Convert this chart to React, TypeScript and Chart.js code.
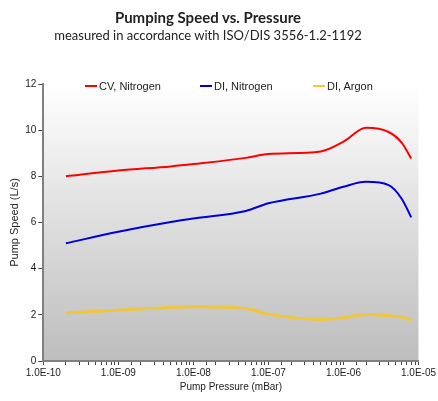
import { useEffect, useRef } from 'react';
import { Chart, registerables } from 'chart.js';
import type { ChartConfiguration, Plugin } from 'chart.js';

Chart.register(...registerables);

// pressure in mBar (log axis) and pumping speed in L/s
const pressure = [2e-10, 1e-9, 5e-9, 1e-8, 5e-8, 1e-7, 5e-7, 1e-6, 2e-6, 4e-6, 6e-6, 8e-6];
const cvNitrogen = [8.0, 8.25, 8.43, 8.53, 8.8, 8.97, 9.08, 9.5, 10.1, 9.92, 9.45, 8.77];
const diNitrogen = [5.1, 5.6, 6.02, 6.17, 6.5, 6.83, 7.25, 7.55, 7.76, 7.62, 7.02, 6.22];
const diArgon = [2.09, 2.2, 2.32, 2.35, 2.27, 2.03, 1.8, 1.87, 2.01, 1.96, 1.9, 1.78];

const seriesNames = ['CV, Nitrogen', 'DI, Nitrogen', 'DI, Argon'];
const seriesColors = ['#ff0000', '#0000dd', '#f0c63c'];
const seriesWidths = [2, 2, 3];
const yTicks = [0, 2, 4, 6, 8, 10, 12];

const AXIS_FONT = 'Liberation Sans, Arial, sans-serif';

function formatExp(v: number) {
  const e = Math.round(Math.log10(v));
  const sign = e < 0 ? '-' : '+';
  return '1.0E' + sign + String(Math.abs(e)).padStart(2, '0');
}

const plotBackground: Plugin = {
  id: 'plotBackground',
  beforeDraw(chart) {
    const { ctx, chartArea } = chart;
    if (!chartArea) return;
    const g = ctx.createLinearGradient(0, chartArea.top, 0, chartArea.bottom);
    g.addColorStop(0, '#ffffff');
    g.addColorStop(1, '#bdbdbd');
    ctx.save();
    ctx.fillStyle = g;
    ctx.fillRect(chartArea.left, chartArea.top, chartArea.right - chartArea.left, chartArea.bottom - chartArea.top);
    ctx.restore();
  },
};

function PumpChart() {
  const canvasRef = useRef<HTMLCanvasElement>(null);
  const chartRef = useRef<Chart | null>(null);

  useEffect(() => {
    if (!canvasRef.current) return;
    const allSeries = [cvNitrogen, diNitrogen, diArgon];

    const config: ChartConfiguration = {
      type: 'line',
      data: {
        datasets: allSeries.map((vals, i) => ({
          label: seriesNames[i],
          data: pressure.map((p, j) => ({ x: p, y: vals[j] })),
          borderColor: seriesColors[i],
          borderWidth: seriesWidths[i],
          pointRadius: 0,
          cubicInterpolationMode: 'monotone' as const,
          fill: false,
        })),
      },
      options: {
        animation: false,
        responsive: true,
        maintainAspectRatio: false,
        layout: { padding: { top: 84, right: 13, left: 8, bottom: 8 } },
        plugins: {
          legend: { display: false },
          tooltip: { enabled: false },
        },
        scales: {
          x: {
            type: 'logarithmic',
            min: 1e-10,
            max: 1e-5,
            border: { color: '#808080', width: 2 },
            grid: { drawOnChartArea: false, tickLength: 4, color: '#444', tickWidth: 1 },
            ticks: {
              autoSkip: false,
              maxRotation: 0,
              padding: 2,
              color: '#222',
              font: { family: AXIS_FONT, size: 10 },
              callback: (v) => {
                const n = Number(v);
                const e = Math.log10(n);
                return Math.abs(e - Math.round(e)) < 1e-6 ? formatExp(n) : '';
              },
            },
            title: {
              display: true,
              text: 'Pump Pressure (mBar)',
              color: '#222',
              font: { family: AXIS_FONT, size: 10 },
              padding: { top: 0, bottom: 0 },
            },
          },
          y: {
            min: 0,
            max: 12,
            afterBuildTicks: (axis) => { axis.ticks = yTicks.map((v) => ({ value: v })); },
            border: { color: '#808080', width: 2 },
            grid: { drawOnChartArea: false, tickLength: 5, color: '#444' },
            ticks: {
              padding: 2,
              color: '#222',
              font: { family: AXIS_FONT, size: 10 },
            },
            title: {
              display: true,
              text: 'Pump Speed (L/s)',
              color: '#222',
              font: { family: AXIS_FONT, size: 11 },
              padding: { top: 0, bottom: 2 },
            },
          },
        },
      },
      plugins: [plotBackground],
    };

    if (chartRef.current) chartRef.current.destroy();
    chartRef.current = new Chart(canvasRef.current, config);
    return () => { if (chartRef.current) { chartRef.current.destroy(); chartRef.current = null; } };
  }, []);

  const legendLeft = [85, 200, 313];

  return (
    <div style={{ position: 'absolute', left: 0, top: 0, width: 438, height: 401, background: '#fff', overflow: 'hidden' }}>
      <canvas ref={canvasRef} style={{ position: 'absolute', left: 0, top: 0 }}></canvas>
      <div style={{ position: 'absolute', left: 0, width: 416, top: 7, textAlign: 'center', fontFamily: 'Lato, sans-serif', color: '#222' }}>
        <div style={{ fontSize: 15, fontWeight: 700, lineHeight: '20px' }}>Pumping Speed vs. Pressure</div>
        <div style={{ fontSize: 13, lineHeight: '16px' }}>measured in accordance with ISO/DIS 3556-1.2-1192</div>
      </div>
      {seriesNames.map((name, i) => (
        <div key={name} style={{ position: 'absolute', left: legendLeft[i], top: 79, display: 'flex', alignItems: 'center', fontFamily: AXIS_FONT, fontSize: 11, color: '#222', lineHeight: '14px' }}>
          <span style={{ display: 'inline-block', width: 12, height: 2, background: seriesColors[i], marginRight: 2 }}></span>
          {name}
        </div>
      ))}
    </div>
  );
}

export default function App() {
  return <PumpChart />;
}
